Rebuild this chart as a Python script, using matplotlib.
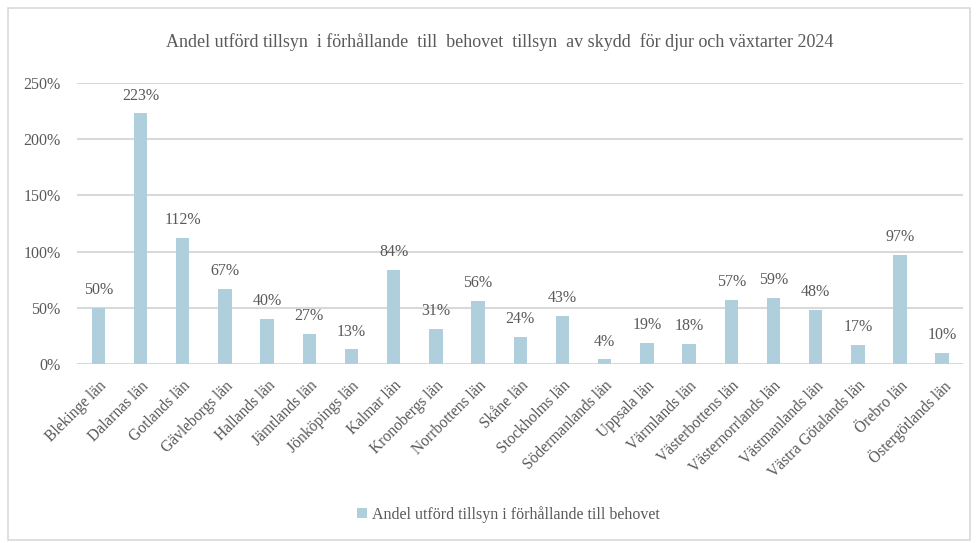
import matplotlib.pyplot as plt
from matplotlib.patches import Rectangle
from matplotlib.ticker import FuncFormatter

plt.rcParams['font.family'] = ['Liberation Serif', 'DejaVu Serif']

lan = ["Blekinge län", "Dalarnas län", "Gotlands län", "Gävleborgs län", "Hallands län",
       "Jämtlands län", "Jönköpings län", "Kalmar län", "Kronobergs län", "Norrbottens län",
       "Skåne län", "Stockholms län", "Södermanlands län", "Uppsala län", "Värmlands län",
       "Västerbottens län", "Västernorrlands län", "Västmanlands län", "Västra Götalands län",
       "Örebro län", "Östergötlands län"]
andel = [0.50, 2.23, 1.12, 0.67, 0.40, 0.27, 0.13, 0.84, 0.31, 0.56, 0.24, 0.43, 0.04,
         0.19, 0.18, 0.57, 0.59, 0.48, 0.17, 0.97, 0.10]

title = "Andel utförd tillsyn  i förhållande  till  behovet  tillsyn  av skydd  för djur och växtarter 2024"
legend_label = "Andel utförd tillsyn i förhållande till behovet"

text_col = "#595959"
bar_col = "#AECFDB"
grid_col = "#D9D9D9"

fig = plt.figure(figsize=(9.78, 5.43), dpi=100)
fig.patches.append(Rectangle((8 / 978, 3 / 543), 962 / 978, 532 / 543, transform=fig.transFigure,
                             fill=False, edgecolor="#D9D9D9", linewidth=1.2))
ax = fig.add_axes([0.079, 0.3297, 0.906, 0.5175])

x = range(len(lan))
ax.bar(x, andel, width=0.32, color=bar_col, label=legend_label, zorder=3)
for xi, v in zip(x, andel):
    ax.annotate(f"{round(v * 100):.0f}%", (xi, v), xytext=(0, 7), textcoords="offset points",
                ha="center", va="bottom", fontsize=11.5, color=text_col)

ax.set_xlim(-0.5, len(lan) - 0.5)
ax.set_ylim(0, 2.5)
ax.set_yticks([0, 0.5, 1.0, 1.5, 2.0, 2.5])
ax.yaxis.set_major_formatter(FuncFormatter(lambda v, _: f"{v * 100:.0f}%"))
ax.grid(axis="y", color=grid_col, linewidth=1.5, zorder=0)
for s in ax.spines.values():
    s.set_visible(False)
ax.tick_params(length=0, labelsize=11.5, colors=text_col)
ax.tick_params(axis="y", pad=12)
ax.tick_params(axis="x", pad=10, labelsize=11.2)
ax.set_xticks(list(x))
ax.set_xticklabels(lan, rotation=45, ha="right", rotation_mode="anchor")

fig.text(500 / 978, 1 - 42 / 543, title, fontsize=13, color=text_col, ha="center", va="center")

leg = fig.legend(loc="center", bbox_to_anchor=(0.52, 0.053), frameon=False, fontsize=11.5,
                 handlelength=0.6, handleheight=0.6, handletextpad=0.3)
for t in leg.get_texts():
    t.set_color(text_col)

fig.savefig("out.png", dpi=100)
